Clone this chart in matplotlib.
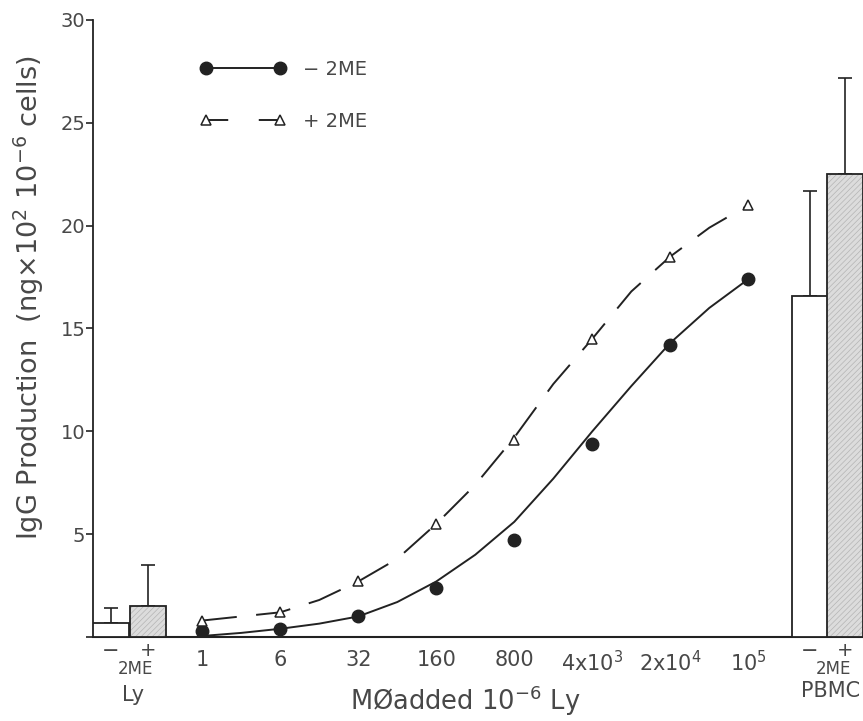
import numpy as np
import matplotlib
matplotlib.use('Agg')
import matplotlib.pyplot as plt
from matplotlib.lines import Line2D

plt.rcParams['font.family'] = ['DejaVu Sans']
plt.rcParams['mathtext.fontset'] = 'dejavusans'
plt.rcParams['lines.scale_dashes'] = False
plt.rcParams['hatch.linewidth'] = 0.5

# Data (IgG production, ng x10^2 per 10^6 cells)
mo_labels = ['1', '6', '32', '160', '800', r'4x10$^3$', r'2x10$^4$', r'10$^5$']
minus_2me = [0.3, 0.4, 1.0, 2.4, 4.7, 9.4, 14.2, 17.4]
plus_2me = [0.8, 1.2, 2.7, 5.5, 9.6, 14.5, 18.5, 21.0]

# fitted curves read at half steps of the dose axis
minus_fit = [0.05, 0.2, 0.4, 0.65, 1.0, 1.7, 2.7, 4.0, 5.6, 7.7, 10.0, 12.2, 14.3, 16.0, 17.4]
plus_fit = [0.8, 1.0, 1.2, 1.8, 2.7, 3.8, 5.5, 7.4, 9.7, 12.3, 14.5, 16.8, 18.5, 19.9, 21.0]

# control bars: Ly alone and PBMC, without / with 2ME
ly_vals = [0.7, 1.5]
ly_err = [0.7, 2.0]
pbmc_vals = [16.6, 22.5]
pbmc_err = [5.1, 4.7]

ink = '#222222'
txt = '#484848'

fig = plt.figure(figsize=(8.63, 7.21), dpi=100)
ax = fig.add_axes([0.1078, 0.1165, 0.8922, 0.8558])

x = np.arange(len(mo_labels))
xf = np.arange(len(minus_fit)) / 2

ax.plot(xf, minus_fit, color=ink, lw=1.4, solid_capstyle='butt')
ax.plot(xf, plus_fit, color=ink, lw=1.4, dashes=(25, 14))
ax.plot(x, minus_2me, ls='none', marker='o', ms=9, color=ink)
ax.plot(x, plus_2me, ls='none', marker='^', ms=7.5, mfc='white', mec=ink, mew=1.1)

# bars
bw = 0.46
ly_x = [-1.17, -0.69]
pb_x = [7.79, 8.24]
for xs, vals, errs in [(ly_x, ly_vals, ly_err), (pb_x, pbmc_vals, pbmc_err)]:
    ax.bar(xs[0], vals[0], width=bw, color='white', edgecolor=ink, lw=1.3, zorder=3)
    ax.bar(xs[1], vals[1], width=bw, color='#dcdcdc', hatch='//////',
           edgecolor='#b4b4b4', lw=0, zorder=3)
    ax.bar(xs[1], vals[1], width=bw, fill=False, edgecolor=ink, lw=1.3, zorder=4)
    ax.errorbar(xs, vals, yerr=[[0, 0], errs], fmt='none', ecolor=ink,
                elinewidth=1.2, capsize=5, capthick=1.2, zorder=2)

ax.set_xlim(-1.40, 8.47)
ax.set_ylim(0, 30)
ax.spines['top'].set_visible(False)
ax.spines['right'].set_visible(False)
ax.spines['left'].set_color(ink)
ax.spines['bottom'].set_color(ink)
ax.spines['left'].set_linewidth(1.3)
ax.spines['bottom'].set_linewidth(1.5)

ax.set_yticks([0, 5, 10, 15, 20, 25, 30])
ax.set_yticklabels(['', '5', '10', '15', '20', '25', '30'])
ax.tick_params(axis='y', length=5, width=1.2, color=ink, labelsize=14,
               labelcolor=txt, pad=0.5)
ax.set_xticks(x)
ax.set_xticklabels(mo_labels)
ax.tick_params(axis='x', length=0, labelsize=15, labelcolor=txt, pad=9)

# labels under control bars
for xs, name, off in [(ly_x, 'Ly', 42), (pb_x, 'PBMC', 39)]:
    ax.annotate('\u2212', (xs[0], 0), xytext=(0, -10), textcoords='offset points',
                ha='center', va='center', fontsize=15, color=txt)
    ax.annotate('+', (xs[1], 0), xytext=(0, -9.5), textcoords='offset points',
                ha='center', va='center', fontsize=14, color=txt)
    ax.annotate('2ME', ((xs[0] + xs[1]) / 2 + 0.07, 0), xytext=(0, -23),
                textcoords='offset points', ha='center', va='center', fontsize=12, color=txt)
    ax.annotate(name, ((xs[0] + xs[1]) / 2 + 0.04, 0), xytext=(0, -off),
                textcoords='offset points', ha='center', va='center', fontsize=15, color=txt)

handles = [Line2D([], [], color=ink, lw=1.4, marker='o', ms=9),
           Line2D([], [], color=ink, lw=1.4, dashes=(16, 22), marker='^', ms=7.5,
                  mfc='white', mec=ink, mew=1.1)]
ax.legend(handles, ['\u2212 2ME', '+ 2ME'], loc='upper left', bbox_to_anchor=(0.116, 0.964),
          frameon=False, numpoints=2, handlelength=4.4, handletextpad=0.9,
          labelspacing=1.7, fontsize=14, labelcolor=txt)

fig.text(465 / 863, 1 - 701 / 721, 'M\u00d8added 10$^{-6}$ Ly', ha='center', va='center',
         fontsize=18.5, color=txt)
fig.text(29 / 863, 1 - 298 / 721, r'IgG Production  (ng$\times$10$^2$ 10$^{-6}$ cells)',
         rotation=90, ha='center', va='center', fontsize=19.5, color=txt)

fig.savefig('out.png', dpi=100)
